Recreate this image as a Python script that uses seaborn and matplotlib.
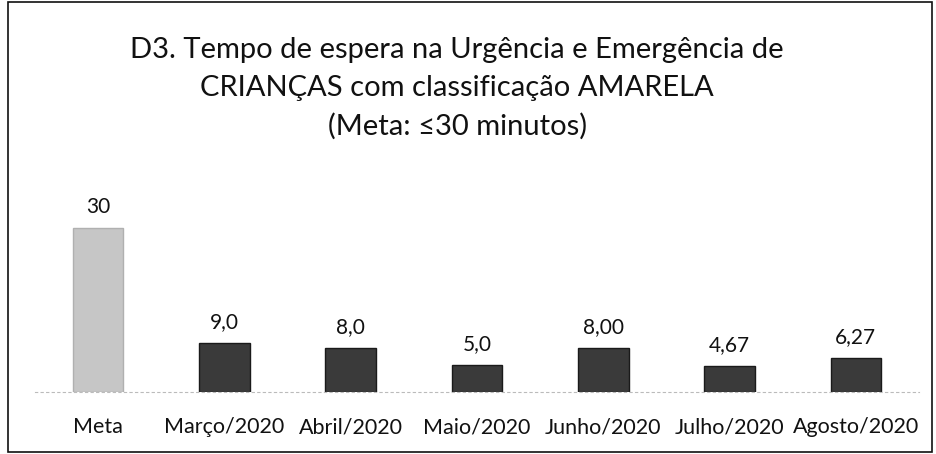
import matplotlib
matplotlib.use("Agg")
import matplotlib.pyplot as plt
import seaborn as sns
import pandas as pd
from matplotlib.patches import Rectangle

# data
categorias = ["Meta", "Março/2020", "Abril/2020", "Maio/2020", "Junho/2020", "Julho/2020", "Agosto/2020"]
valores = [30, 9.0, 8.0, 5.0, 8.00, 4.67, 6.27]
rotulos = ["30", "9,0", "8,0", "5,0", "8,00", "4,67", "6,27"]
cores = ["#c6c6c6", "#3a3a3a", "#3a3a3a", "#3a3a3a", "#3a3a3a", "#3a3a3a", "#3a3a3a"]

df = pd.DataFrame({"mes": categorias, "tempo": valores})

sns.set_style("white")
plt.rcParams["font.family"] = ["Lato", "DejaVu Sans"]

fig = plt.figure(figsize=(9.37, 4.54), dpi=100)
ax = fig.add_axes([35 / 937, (454 - 392) / 454, (919 - 35) / 937, (392 - 190) / 454])

sns.barplot(data=df, x="mes", y="tempo", hue="mes", palette=cores, legend=False,
            width=0.4, edgecolor="#1a1a1a", linewidth=1, ax=ax)
ax.patches[0].set_edgecolor("#b0b0b0")

for i, (v, r) in enumerate(zip(valores, rotulos)):
    ax.text(i, v + 2.0, r, ha="center", va="bottom", fontsize=15, color="#111111")

ax.set_ylim(0, (392 - 190) / (164 / 30))
ax.set_xlim(-0.5, len(categorias) - 0.5)
ax.set_xlabel("")
ax.set_ylabel("")
ax.set_yticks([])
ax.tick_params(axis="x", length=0, pad=18, labelsize=15.5, colors="#111111")
for s in ["top", "right", "left"]:
    ax.spines[s].set_visible(False)
ax.spines["bottom"].set_color("#bbbbbb")
ax.spines["bottom"].set_linestyle((0, (2, 3)))
ax.spines["bottom"].set_linewidth(0.8)

fig.text(0.488, 0.918, "D3. Tempo de espera na Urgência e Emergência de\nCRIANÇAS com classificação AMARELA\n(Meta: ≤30 minutos)",
         ha="center", va="top", fontsize=21, linespacing=1.55, color="#111111")

# outer frame
fig.patches.append(Rectangle((8 / 937, 2 / 454), 924 / 937, 450 / 454, transform=fig.transFigure,
                             fill=False, edgecolor="#111111", linewidth=1.2))

fig.savefig("out.png", dpi=100)
